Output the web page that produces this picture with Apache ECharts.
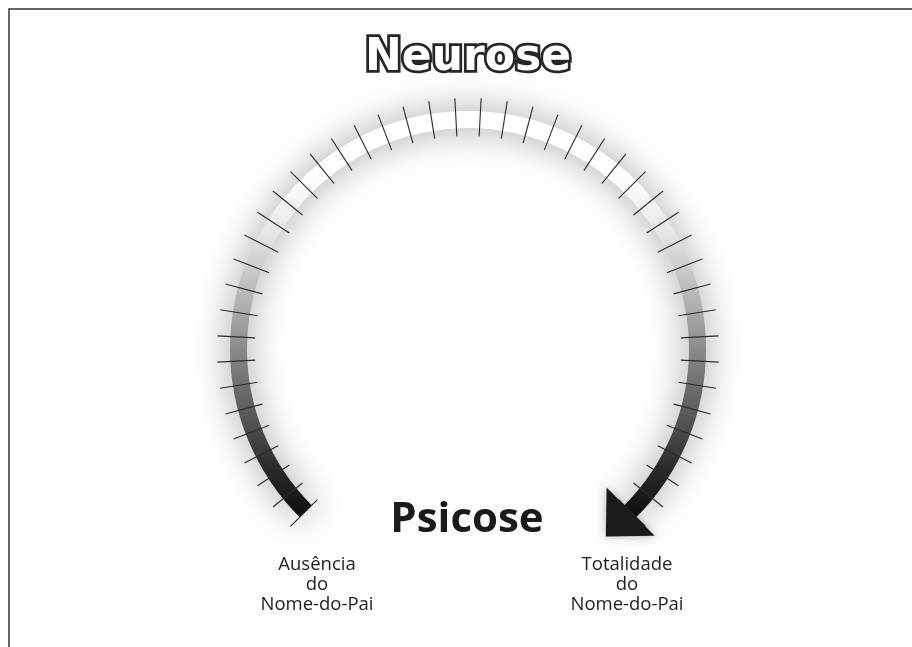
<!DOCTYPE html>
<html>
<head>
<meta charset="utf-8">
<script src="https://cdn.jsdelivr.net/npm/echarts@6/dist/echarts.min.js"></script>
<style>
  html, body { margin: 0; padding: 0; background: #fff; }
  #chart { width: 912px; height: 647px; }
</style>
</head>
<body>
<div id="chart"></div>
<script>
// scale of the arc: 45 equal steps, one tick per step
const scaleMin = 0
const scaleMax = 45
const tickSteps = 45
// the arrow sits at the end of the scale
const arrowValue = [45]
// texts
const topLabel = 'Neurose'
const centerLabel = 'Psicose'
const endLabels = ['Ausência\ndo\nNome-do-Pai', 'Totalidade\ndo\nNome-do-Pai']

const chart = echarts.init(document.getElementById('chart'), null, { renderer: 'canvas' })

// band shading: white on top, dark at both ends
const bandFill = new echarts.graphic.LinearGradient(0, 0, 0, 1, [
  { offset: 0, color: '#ffffff' },
  { offset: 0.18, color: '#fcfcfc' },
  { offset: 0.3, color: '#e6e6e6' },
  { offset: 0.47, color: '#b2b2b2' },
  { offset: 0.61, color: '#828282' },
  { offset: 0.76, color: '#555555' },
  { offset: 0.88, color: '#2a2a2a' },
  { offset: 1, color: '#0d0d0d' }
])

chart.setOption({
  animation: false,
  backgroundColor: '#ffffff',
  graphic: [
    {
      type: 'rect',
      z: -10,
      shape: { x: 9, y: 9, width: 1000, height: 1000 },
      style: { fill: '#fdfdfd', stroke: '#333333', lineWidth: 1.5 }
    },
    {
      type: 'text',
      x: 468,
      y: 59,
      style: {
        text: topLabel,
        align: 'center',
        verticalAlign: 'middle',
        font: 'bold 44px "DejaVu Sans"',
        fill: '#ffffff',
        stroke: '#262626',
        lineWidth: 5.5,
        lineJoin: 'round',
        shadowBlur: 3,
        shadowColor: 'rgba(0,0,0,0.25)'
      },
      z: 10
    },
    {
      type: 'text',
      x: 467,
      y: 520,
      style: {
        text: centerLabel,
        align: 'center',
        verticalAlign: 'middle',
        font: 'bold 42px "Open Sans"',
        fill: '#1a1a1a'
      },
      z: 10
    },
    {
      type: 'text',
      x: 317,
      y: 555,
      style: {
        text: endLabels[0],
        align: 'center',
        verticalAlign: 'top',
        lineHeight: 20,
        font: '18.5px "Open Sans"',
        fill: '#1e1e1e'
      },
      z: 10
    },
    {
      type: 'text',
      x: 627,
      y: 555,
      style: {
        text: endLabels[1],
        align: 'center',
        verticalAlign: 'top',
        lineHeight: 20,
        font: '18.5px "Open Sans"',
        fill: '#1e1e1e'
      },
      z: 10
    }
  ],
  series: [{
    type: 'gauge',
    center: [468, 349],
    radius: 238,
    startAngle: 225,
    endAngle: -45,
    min: scaleMin,
    max: scaleMax,
    splitNumber: tickSteps,
    axisLine: {
      lineStyle: {
        width: 17,
        color: [[1, bandFill]],
        shadowBlur: 32,
        shadowColor: 'rgba(0,0,0,0.4)'
      }
    },
    splitLine: {
      show: true,
      distance: -30,
      length: 38,
      lineStyle: { color: '#2b2b2b', width: 1.1 }
    },
    axisTick: { show: false },
    axisLabel: { show: false },
    pointer: {
      show: true,
      icon: 'path://M0 0 L1 0.5 L0 1 Z',
      width: 35,
      length: 68,
      offsetCenter: [17.5, -196],
      itemStyle: {
        color: '#1a1a1a',
        shadowBlur: 8,
        shadowColor: 'rgba(0,0,0,0.3)'
      }
    },
    anchor: { show: false },
    title: { show: false },
    detail: { show: false },
    data: arrowValue.map((v) => ({ value: v }))
  }]
})
</script>
</body>
</html>
